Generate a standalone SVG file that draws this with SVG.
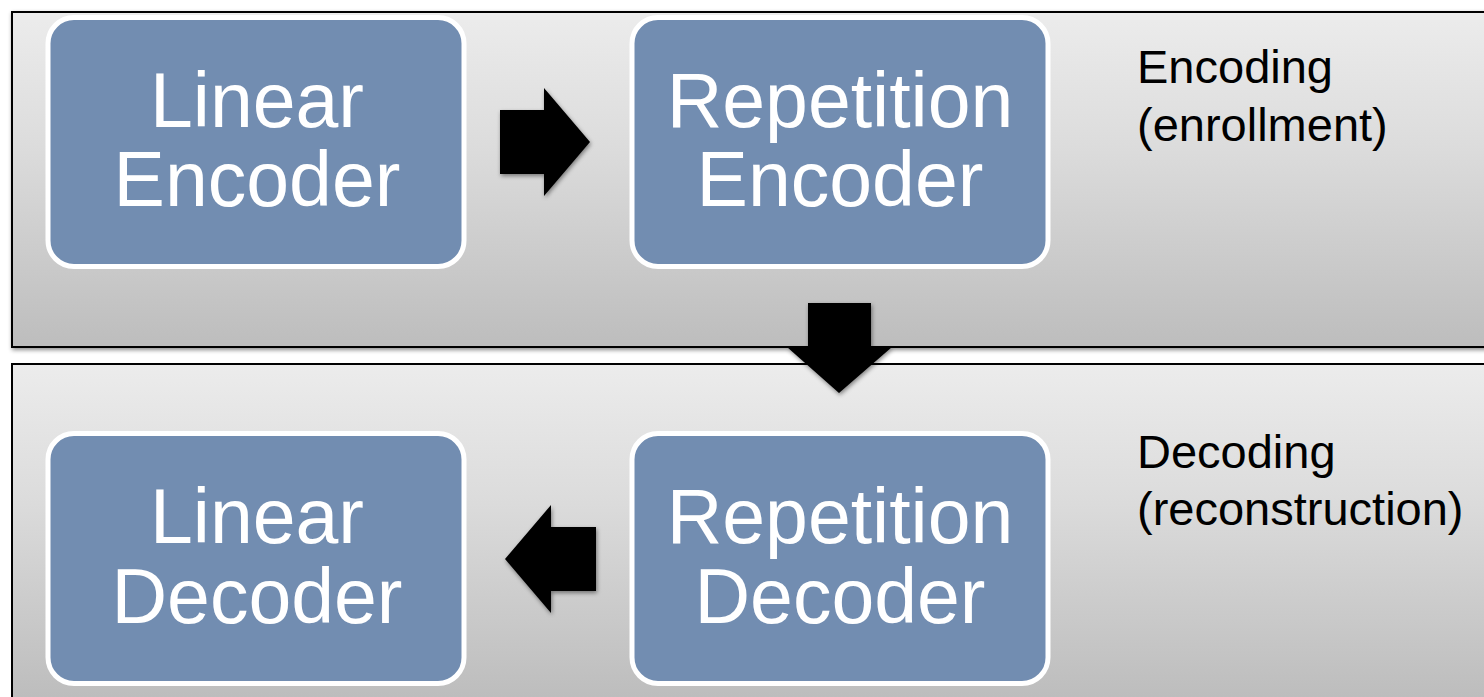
<svg xmlns="http://www.w3.org/2000/svg" width="1484" height="697" viewBox="0 0 1484 697">
  <defs>
    <linearGradient id="panelGrad1" x1="0" y1="0" x2="0" y2="1">
      <stop offset="0" stop-color="#ececec"/>
      <stop offset="0.4" stop-color="#dcdcdc"/>
      <stop offset="1" stop-color="#bdbdbd"/>
    </linearGradient>
    <linearGradient id="panelGrad2" x1="0" y1="364" x2="0" y2="697" gradientUnits="userSpaceOnUse">
      <stop offset="0" stop-color="#ececec"/>
      <stop offset="0.4" stop-color="#dcdcdc"/>
      <stop offset="1" stop-color="#bdbdbd"/>
    </linearGradient>
    <filter id="shadow" x="-20%" y="-20%" width="140%" height="140%">
      <feDropShadow dx="1" dy="2" stdDeviation="2" flood-color="#000" flood-opacity="0.45"/>
    </filter>
  </defs>
  <style>
    .panel { stroke: #000; stroke-width: 2; }
    .box { fill: #728db1; stroke: #ffffff; stroke-width: 5; }
    .big { font-family: "Liberation Sans", Arial, sans-serif; font-size: 77px; fill: #ffffff; text-anchor: middle; }
    .lbl { font-family: "Liberation Sans", Arial, sans-serif; font-size: 47px; fill: #000000; }
    .arrow { fill: #000000; filter: url(#shadow); }
  </style>
  <rect width="1484" height="697" fill="#ffffff"/>

  <g id="panel-encoding">
    <rect class="panel" x="12" y="12" width="1480" height="335" fill="url(#panelGrad1)" filter="url(#shadow)"/>
    <text class="lbl" x="1137" y="83">Encoding</text>
    <text class="lbl" x="1137" y="141">(enrollment)</text>
  </g>
  <g id="panel-decoding">
    <rect class="panel" x="12" y="364" width="1480" height="345" fill="url(#panelGrad2)"/>
    <text class="lbl" x="1137" y="468">Decoding</text>
    <text class="lbl" x="1137" y="525">(reconstruction)</text>
  </g>

  <g id="linear-encoder">
    <rect class="box" x="48" y="17.5" width="416" height="249" rx="26"/>
    <text class="big" x="257" y="127">Linear</text>
    <text class="big" x="257" y="206">Encoder</text>
  </g>
  <g id="repetition-encoder">
    <rect class="box" x="632" y="17.5" width="416" height="249" rx="26"/>
    <text class="big" x="840" y="127">Repetition</text>
    <text class="big" x="840" y="206">Encoder</text>
  </g>
  <g id="linear-decoder">
    <rect class="box" x="48" y="433.5" width="416" height="250" rx="26"/>
    <text class="big" x="257" y="543">Linear</text>
    <text class="big" x="257" y="623">Decoder</text>
  </g>
  <g id="repetition-decoder">
    <rect class="box" x="632" y="433.5" width="416" height="250" rx="26"/>
    <text class="big" x="840" y="543">Repetition</text>
    <text class="big" x="840" y="623">Decoder</text>
  </g>

  <g id="connectors">
    <polygon class="arrow" points="500,110 544,110 544,88 590,142 544,196 544,174 500,174"/>
    <polygon class="arrow" points="808,303 871,303 871,347 892,347 839,393 787,347 808,347"/>
    <polygon class="arrow" points="596,527 551,527 551,505 505,559 551,613 551,591 596,591"/>
  </g>
</svg>
